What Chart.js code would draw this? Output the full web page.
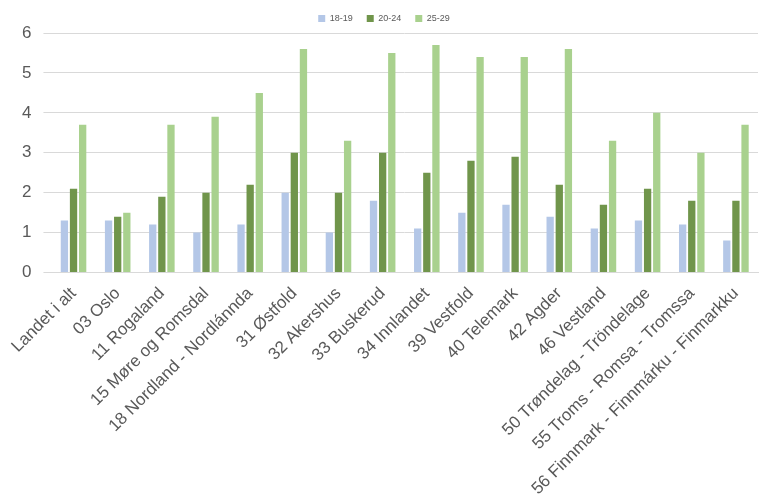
<!DOCTYPE html>
<html><head><meta charset="utf-8">
<script src="https://cdn.jsdelivr.net/npm/chart.js@4/dist/chart.umd.min.js"></script>
<style>html,body{margin:0;padding:0;background:#fff}#w{width:768px;height:502px}</style>
</head><body><div id="w"><canvas id="c"></canvas></div>
<script>
const categories=["Landet i alt","03 Oslo","11 Rogaland","15 Møre og Romsdal","18 Nordland - Nordlánnda","31 Østfold","32 Akershus","33 Buskerud","34 Innlandet","39 Vestfold","40 Telemark","42 Agder","46 Vestland","50 Trøndelag - Tröndelage","55 Troms - Romsa - Tromssa","56 Finnmark - Finnmárku - Finmarkku"];
const s1819=[1.3,1.3,1.2,1.0,1.2,2.0,1.0,1.8,1.1,1.5,1.7,1.4,1.1,1.3,1.2,0.8];
const s2024=[2.1,1.4,1.9,2.0,2.2,3.0,2.0,3.0,2.5,2.8,2.9,2.2,1.7,2.1,1.8,1.8];
const s2529=[3.7,1.5,3.7,3.9,4.5,5.6,3.3,5.5,5.7,5.4,5.4,5.6,3.3,4.0,3.0,3.7];
const yTicks=[0,1,2,3,4,5,6];
new Chart(document.getElementById('c'),{type:'bar',
data:{labels:categories,datasets:[
{label:'18-19',data:s1819,backgroundColor:'#b4c7e7'},
{label:'20-24',data:s2024,backgroundColor:'#70954b'},
{label:'25-29',data:s2529,backgroundColor:'#a9d18e'}]},
options:{responsive:true,maintainAspectRatio:false,animation:false,
layout:{padding:{left:10,right:10,top:0,bottom:0}},
datasets:{bar:{categoryPercentage:0.62,barPercentage:0.8}},
plugins:{legend:{position:'top',labels:{boxWidth:7,boxHeight:7,font:{size:9,family:'Liberation Sans'},color:'#595959',padding:14}},tooltip:{enabled:false}},
scales:{x:{grid:{display:false},border:{color:'#d9d9d9'},ticks:{color:'#595959',font:{size:17,family:'Liberation Sans'},maxRotation:45,minRotation:45,autoSkip:false}},
y:{min:0,max:6,afterBuildTicks:a=>{a.ticks=yTicks.map(v=>({value:v}))},grid:{color:'#d9d9d9'},border:{display:false},ticks:{color:'#595959',font:{size:17,family:'Liberation Sans'},padding:12}}}}});
</script></body></html>
